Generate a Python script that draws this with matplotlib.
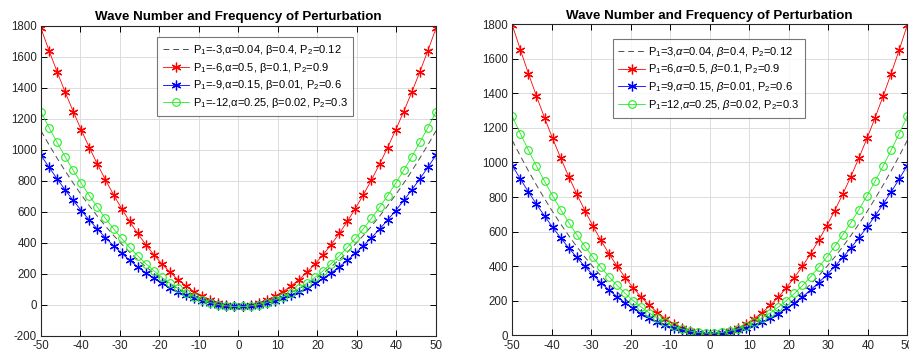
import numpy as np
import matplotlib
matplotlib.use('Agg')
import matplotlib.pyplot as plt

plt.rcParams['font.family'] = ['Liberation Sans', 'DejaVu Sans']
plt.rcParams['mathtext.fontset'] = 'custom'
plt.rcParams['mathtext.rm'] = 'Liberation Sans'
plt.rcParams['mathtext.it'] = 'Liberation Sans:italic'
plt.rcParams['axes.unicode_minus'] = False

# wave number grid (50 samples from -50 to 50)
k = np.linspace(-50, 50, 50)

# read values for k >= 0 (curves are symmetric about k = 0)
left_black = [-2.5, 1.2, 8.7, 19.9, 34.9, 53.7, 76.1, 102.3, 132.3, 166.0, 203.5, 244.6, 289.6,
              338.3, 390.7, 446.9, 506.8, 570.5, 637.9, 709.0, 783.9, 862.6, 945.0, 1031.1, 1121.0]
left_red = [-5.3, 0.7, 12.6, 30.5, 54.3, 84.1, 119.9, 161.6, 209.2, 262.8, 322.4, 387.9, 459.4,
            536.9, 620.3, 709.7, 805.0, 906.2, 1013.5, 1126.7, 1245.8, 1370.9, 1502.0, 1639.0, 1782.0]
left_blue = [-8.6, -5.4, 1.1, 10.9, 23.8, 40.0, 59.5, 82.2, 108.1, 137.3, 169.7, 205.4, 244.3,
             286.4, 331.8, 380.5, 432.3, 487.4, 545.8, 607.4, 672.2, 740.3, 811.6, 886.2, 964.0]
left_green = [-11.5, -7.3, 1.1, 13.6, 30.3, 51.3, 76.3, 105.6, 139.1, 176.7, 218.5, 264.5, 314.7,
              369.1, 427.6, 490.3, 557.2, 628.3, 703.6, 783.0, 866.7, 954.5, 1046.5, 1142.6, 1243.0]

right_black = [3.5, 7.2, 14.7, 25.9, 40.9, 59.7, 82.1, 108.3, 138.3, 172.0, 209.5, 250.6, 295.6,
               344.3, 396.7, 452.9, 512.8, 576.5, 643.9, 715.0, 789.9, 868.6, 951.0, 1037.1, 1127.0]
right_red = [6.7, 12.7, 24.6, 42.5, 66.3, 96.1, 131.9, 173.6, 221.2, 274.8, 334.4, 399.9, 471.4,
             548.9, 632.3, 721.7, 817.0, 918.2, 1025.5, 1138.7, 1257.8, 1382.9, 1514.0, 1651.0, 1794.0]
right_blue = [9.4, 12.7, 19.1, 28.9, 41.8, 58.0, 77.5, 100.2, 126.1, 155.3, 187.7, 223.4, 262.3,
              304.4, 349.8, 398.5, 450.3, 505.4, 563.8, 625.4, 690.2, 758.3, 829.6, 904.2, 982.0]
right_green = [12.5, 16.7, 25.1, 37.6, 54.3, 75.3, 100.3, 129.6, 163.1, 200.7, 242.5, 288.5, 338.7,
               393.1, 451.6, 514.3, 581.2, 652.3, 727.6, 807.0, 890.7, 978.5, 1070.5, 1166.6, 1267.0]

left_labels = ['P$_1$=-3,α=0.04, β=0.4, P$_2$=0.12',
               'P$_1$=-6,α=0.5, β=0.1, P$_2$=0.9',
               'P$_1$=-9,α=0.15, β=0.01, P$_2$=0.6',
               'P$_1$=-12,α=0.25, β=0.02, P$_2$=0.3']
right_labels = [r'P$_1$=3,$\alpha$=0.04, $\beta$=0.4, P$_2$=0.12',
                r'P$_1$=6,$\alpha$=0.5, $\beta$=0.1, P$_2$=0.9',
                r'P$_1$=9,$\alpha$=0.15, $\beta$=0.01, P$_2$=0.6',
                r'P$_1$=12,$\alpha$=0.25, $\beta$=0.02, P$_2$=0.3']

title = 'Wave Number and Frequency of Perturbation'


def full(half):
    half = list(half)
    return np.array(half[::-1] + half)


star = (6, 2, 0)

fig = plt.figure(figsize=(9.09, 3.56), dpi=100)
panels = [
    ([0.0451, 0.057, 0.4345, 0.871], (left_black, left_red, left_blue, left_green), left_labels,
     (-200, 1800), np.arange(-200, 1801, 200), (0.294, 0.963)),
    ([0.5636, 0.058, 0.4345, 0.8744], (right_black, right_red, right_blue, right_green), right_labels,
     (0, 1800), np.arange(0, 1801, 200), (0.254, 0.952)),
]
for rect, (blk, red, blu, grn), labels, ylim, yticks, legpos in panels:
    ax = fig.add_axes(rect)
    ax.plot(k, full(blk), ls=(0, (6, 4)), color='0.3', lw=0.7, label=labels[0])
    ax.plot(k, full(red), color='red', lw=0.6, marker=star, ms=7, mew=0.9, label=labels[1])
    ax.plot(k, full(blu), color='blue', lw=0.6, marker=star, ms=7, mew=0.9, label=labels[2])
    ax.plot(k, full(grn), color='#22ee22', lw=0.6, marker='o', ms=5.5, mew=0.8, mfc='none',
            mec='#22ee22', label=labels[3])
    ax.set_xlim(-50, 50)
    ax.set_ylim(*ylim)
    ax.set_xticks(np.arange(-50, 51, 10))
    ax.set_yticks(yticks)
    ax.grid(True, color='#dcdcdc', lw=0.7)
    ax.set_axisbelow(True)
    ax.tick_params(direction='in', top=True, right=True, length=4, width=0.7,
                   labelsize=8.3, labelcolor='#262626', pad=3)
    for s in ax.spines.values():
        s.set_linewidth(0.8)
        s.set_color('#262626')
    ax.set_title(title, fontsize=9.6, fontweight='bold', pad=4)
    leg = ax.legend(loc='upper left', bbox_to_anchor=legpos, fontsize=8.0, frameon=True,
                    fancybox=False, edgecolor='#555555', handlelength=2.4, handletextpad=0.3,
                    borderpad=0.5, labelspacing=0.35, borderaxespad=0)
    leg.get_frame().set_linewidth(0.8)

fig.savefig('out.png', dpi=100)
